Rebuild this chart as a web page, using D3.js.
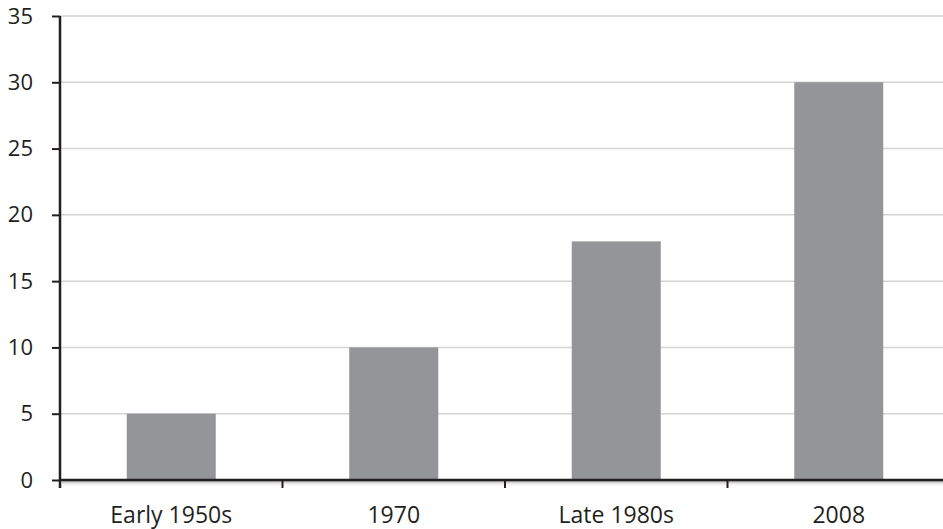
<!DOCTYPE html>
<html>
<head>
<meta charset="utf-8">
<script src="https://cdn.jsdelivr.net/npm/d3@7"></script>
<style>
  body { margin: 0; background: #fff; }
  text { font-family: "Open Sans", "Noto Sans", sans-serif; fill: #231f20; }
</style>
</head>
<body>
<div id="chart"></div>
<script>
// Dados
const categories = ['Early 1950s', '1970', 'Late 1980s', '2008'];
const values = [5, 10, 18, 30];
const yTicks = [0, 5, 10, 15, 20, 25, 30, 35];

const W = 943, H = 529;
const x0 = 60, x1 = 950;   // o eixo continua além da borda direita
const yTop = 16, yBottom = 480;

const svg = d3.select('#chart').append('svg')
    .attr('width', W)
    .attr('height', H);

const x = d3.scaleBand()
    .domain(categories)
    .range([x0, x1])
    .padding(0);

const y = d3.scaleLinear()
    .domain([0, 35])
    .range([yBottom, yTop]);

// Linhas de grade
svg.append('g')
    .selectAll('line')
    .data(yTicks.filter(d => d > 0))
    .enter()
    .append('line')
    .attr('x1', x0)
    .attr('x2', W)
    .attr('y1', d => y(d))
    .attr('y2', d => y(d))
    .style('stroke', '#d4d4d4')
    .style('stroke-width', '1.5px');

// Barras
const barW = x.bandwidth() * 0.4;
svg.append('g')
    .selectAll('rect')
    .data(values)
    .enter()
    .append('rect')
    .attr('x', (d, i) => x(categories[i]) + x.bandwidth() / 2 - barW / 2)
    .attr('y', d => y(d))
    .attr('width', barW)
    .attr('height', d => y(0) - y(d))
    .style('fill', '#939598');

// Sombra sob o eixo x
const defs = svg.append('defs');
const grad = defs.append('linearGradient')
    .attr('id', 'shadow')
    .attr('x1', 0).attr('y1', 0).attr('x2', 0).attr('y2', 1);
grad.append('stop').attr('offset', '0%').attr('stop-color', '#9a9a9a').attr('stop-opacity', 0.8);
grad.append('stop').attr('offset', '100%').attr('stop-color', '#ffffff').attr('stop-opacity', 0);
svg.append('rect')
    .attr('x', x0 + 2)
    .attr('y', yBottom + 1)
    .attr('width', W - x0)
    .attr('height', 6)
    .style('fill', 'url(#shadow)');

// Eixo y
const yAxis = d3.axisLeft(y)
    .tickValues(yTicks)
    .tickSize(8)
    .tickPadding(19)
    .tickFormat(d3.format('d'));
const gy = svg.append('g')
    .attr('transform', `translate(${x0},0)`)
    .call(yAxis);
gy.select('.domain').remove();
gy.append('line')
    .attr('x1', 0).attr('x2', 0)
    .attr('y1', yTop).attr('y2', yBottom + 8)
    .style('stroke', '#231f20')
    .style('stroke-width', '2.5px');
gy.selectAll('.tick line').style('stroke', '#231f20').style('stroke-width', '2px');
gy.selectAll('.tick text')
    .style('font-size', '22px')
    .attr('fill', '#231f20');

// Eixo x
const xTickPos = categories.slice(1).map(c => x(c));
svg.append('line')
    .attr('x1', x0).attr('x2', W)
    .attr('y1', yBottom).attr('y2', yBottom)
    .style('stroke', '#231f20')
    .style('stroke-width', '2.5px');
svg.append('g')
    .selectAll('line')
    .data(xTickPos)
    .enter()
    .append('line')
    .attr('x1', d => d).attr('x2', d => d)
    .attr('y1', yBottom).attr('y2', yBottom + 8)
    .style('stroke', '#231f20')
    .style('stroke-width', '2px');
svg.append('g')
    .selectAll('text')
    .data(categories)
    .enter()
    .append('text')
    .attr('x', d => x(d) + x.bandwidth() / 2)
    .attr('y', 523)
    .attr('text-anchor', 'middle')
    .style('font-size', '23px')
    .text(d => d);
</script>
</body>
</html>
